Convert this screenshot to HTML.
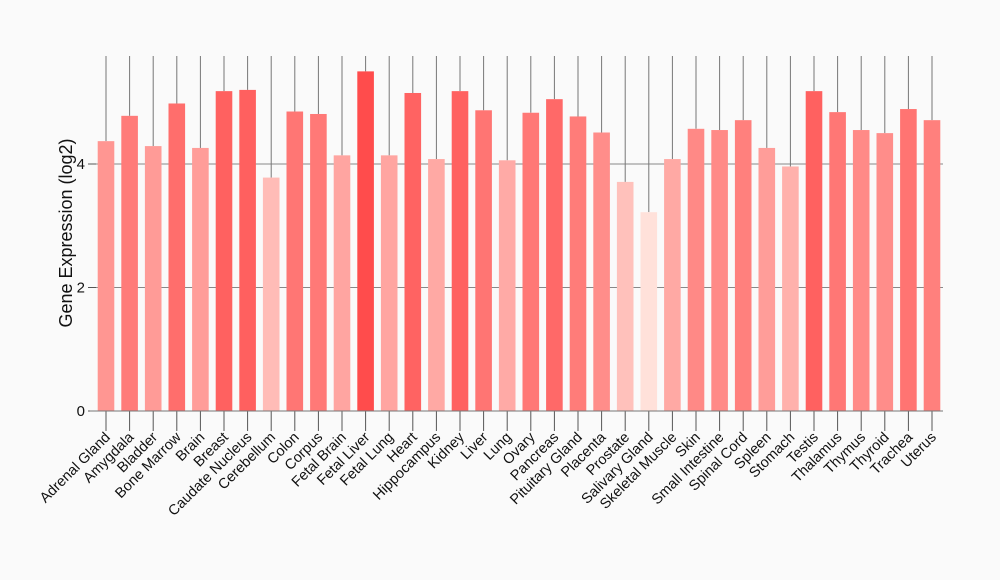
<!DOCTYPE html>
<html><head><meta charset="utf-8"><style>
html,body{margin:0;padding:0;background:#fafafa;}
svg{display:block;font-family:"Liberation Sans",Arial,sans-serif;}
</style></head><body>
<svg id="c" width="1000" height="580" xmlns="http://www.w3.org/2000/svg">
<rect width="1000" height="580" fill="#fafafa"/>
</svg>
<script>
var d=[["Adrenal Gland",4.37],["Amygdala",4.78],["Bladder",4.29],["Bone Marrow",4.98],["Brain",4.26],["Breast",5.18],["Caudate Nucleus",5.2],["Cerebellum",3.78],["Colon",4.85],["Corpus",4.81],["Fetal Brain",4.14],["Fetal Liver",5.5],["Fetal Lung",4.14],["Heart",5.15],["Hippocampus",4.08],["Kidney",5.18],["Liver",4.87],["Lung",4.06],["Ovary",4.83],["Pancreas",5.05],["Pituitary Gland",4.77],["Placenta",4.51],["Prostate",3.71],["Salivary Gland",3.22],["Skeletal Muscle",4.08],["Skin",4.57],["Small Intestine",4.55],["Spinal Cord",4.71],["Spleen",4.26],["Stomach",3.96],["Testis",5.18],["Thalamus",4.84],["Thymus",4.55],["Thyroid",4.5],["Trachea",4.89],["Uterus",4.71]];
var s='';var y0=411,k=61.75;
function Y(v){return y0-v*k;}
[2,4].forEach(function(v){s+='<line x1="90" x2="943" y1="'+Y(v)+'" y2="'+Y(v)+'" stroke="#888" stroke-width="1"/>';});
[0,2,4].forEach(function(v){s+='<line x1="88" x2="96" y1="'+Y(v)+'" y2="'+Y(v)+'" stroke="#555"/><text x="85" y="'+(Y(v)+5)+'" font-size="15" text-anchor="end" fill="#111">'+v+'</text>';});
d.forEach(function(e,i){var cx=106+i*23.6,v=e[1];var t=(v-3.22)/(5.5-3.22);
var g=Math.round(225-149*t),b=Math.round(218-142*t);var col='rgb(255,'+g+','+b+')';
s+='<line x1="'+cx+'" x2="'+cx+'" y1="56" y2="'+Y(v)+'" stroke="#777"/>';
s+='<rect x="'+(cx-8.3)+'" y="'+Y(v)+'" width="16.6" height="'+(v*k)+'" fill="'+col+'"/>';
s+='<line x1="'+cx+'" x2="'+cx+'" y1="411" y2="431" stroke="#555"/>';
s+='<text transform="translate('+(cx+5)+',438) rotate(-45)" font-size="14.5" text-anchor="end" fill="#111">'+e[0]+'</text>';});
s+='<line x1="90" x2="943" y1="411" y2="411" stroke="#777"/>';
s+='<text transform="translate(72,233) rotate(-90)" font-size="18" text-anchor="middle" fill="#111">Gene Expression (log2)</text>';
document.getElementById('c').insertAdjacentHTML('beforeend',s);
</script>
</body></html>
